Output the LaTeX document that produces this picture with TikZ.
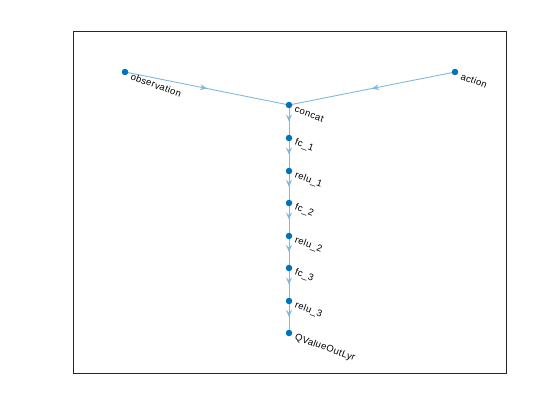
\documentclass[tikz,border=0pt]{standalone}
\usepackage{fontspec}
\setmainfont{Liberation Sans}
\usetikzlibrary{decorations.markings,arrows.meta}
\definecolor{nodec}{RGB}{0,114,189}
\definecolor{edgec}{RGB}{128,185,222}
\tikzset{
  vert/.style={circle,fill=nodec,inner sep=0pt,minimum size=6.5pt},
  lbl/.style={anchor=west,rotate=-20,inner sep=0pt,font=\fontsize{9.5}{11}\selectfont\addfontfeatures{LetterSpace=4},text=black},
  edge/.style={draw=edgec,line width=0.9pt,postaction={decorate},
    decoration={markings,mark=at position 0.5 with {\arrow{Stealth[length=7pt,width=6pt,inset=2.5pt]}}}},
  axbox/.style={draw=black!85,line width=0.6pt}
}
\begin{document}
\begin{tikzpicture}[x=1pt,y=-1pt]
\useasboundingbox (0,0) rectangle (560,420);
\fill[white] (0,0) rectangle (560,420);
\draw[axbox] (73,31) rectangle (506,373);
\coordinate (obs) at (125,72);
\coordinate (act) at (455,72);
\coordinate (cat) at (289,105);
\coordinate (fc1) at (289,138);
\coordinate (r1) at (289,171);
\coordinate (fc2) at (289,203);
\coordinate (r2) at (289,236);
\coordinate (fc3) at (289,268);
\coordinate (r3) at (289,301);
\coordinate (q) at (289,333);
\path[edge] (obs) -- (cat);
\path[edge] (act) -- (cat);
\path[edge] (cat) -- (fc1);
\path[edge] (fc1) -- (r1);
\path[edge] (r1) -- (fc2);
\path[edge] (fc2) -- (r2);
\path[edge] (r2) -- (fc3);
\path[edge] (fc3) -- (r3);
\path[edge] (r3) -- (q);
\foreach \n/\t in {obs/observation,act/action,cat/concat,fc1/fc\_1,r1/relu\_1,fc2/fc\_2,r2/relu\_2,fc3/fc\_3,r3/relu\_3,q/QValueOutLyr}{
  \node[vert] (v\n) at (\n) {};
  \node[lbl] (l\n) at ([shift={(6,4)}]\n) {\t};
}
\end{tikzpicture}
\end{document}
